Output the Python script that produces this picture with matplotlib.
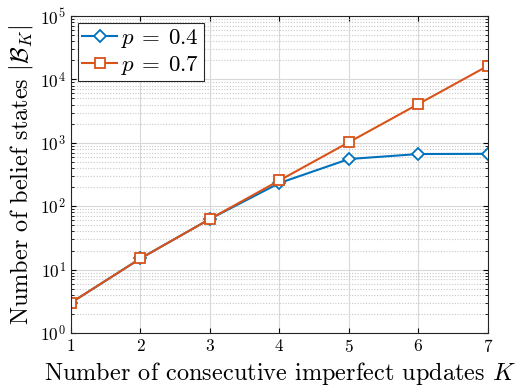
import matplotlib
matplotlib.use("Agg")
import matplotlib.pyplot as plt
import numpy as np

plt.rcParams['font.family'] = ['cmr10', 'DejaVu Serif']
plt.rcParams['mathtext.fontset'] = 'cm'
plt.rcParams['axes.formatter.use_mathtext'] = True

K = [1, 2, 3, 4, 5, 6, 7]
states_p04 = [3, 15, 63, 232, 555, 665, 670]
states_p07 = [3, 15, 63, 255, 1023, 4095, 16383]

fig = plt.figure(figsize=(5.16, 3.87), dpi=100)
ax = fig.add_axes([0.1376, 0.1395, 0.8081, 0.8192])

ax.plot(K, states_p04, color='#0072BD', lw=1.5, marker='D', ms=6.5,
        mfc='white', mec='#0072BD', mew=1.3, label=r'$p\:=\:0.4$')
ax.plot(K, states_p07, color='#D95319', lw=1.5, marker='s', ms=6.5,
        mfc='white', mec='#D95319', mew=1.3, label=r'$p\:=\:0.7$')

ax.set_yscale('log')
ax.set_xlim(1, 7)
ax.set_ylim(1, 1e5)
ax.set_xticks(K)
ax.set_yticks([1e0, 1e1, 1e2, 1e3, 1e4, 1e5])

ax.grid(True, which='major', color='#d8d8d8', lw=0.8)
ax.grid(True, which='minor', color='#c8c8c8', lw=0.8, ls=(0, (1, 1.5)))
ax.tick_params(which='both', direction='in', top=True, right=True, labelsize=12.5)
for s in ax.spines.values():
    s.set_color('#262626')
    s.set_linewidth(0.8)

ax.set_xlabel(r'Number of consecutive imperfect updates $K$', fontsize=17.5)
ax.set_ylabel(r'Number of belief states $|\mathcal{B}_K|$', fontsize=17.5)

leg = ax.legend(loc='upper left', fontsize=16.5, fancybox=False, framealpha=1,
                edgecolor='#262626', handlelength=1.5, borderpad=0.2,
                labelspacing=0.15, handletextpad=0.2, borderaxespad=0.3)
leg.get_frame().set_linewidth(0.8)

fig.savefig('out.png', dpi=100)
